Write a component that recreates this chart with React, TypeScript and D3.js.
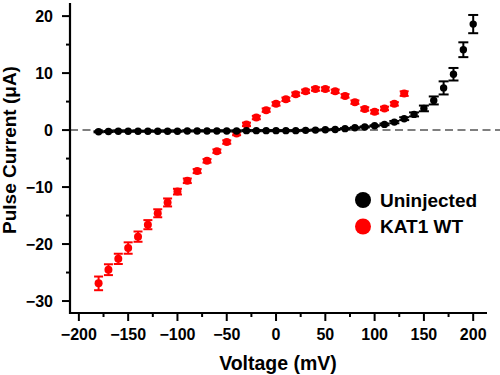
import React from "react";
import * as d3 from "d3";

const blackVoltages = d3.range(-180, 201, 10);
const blackValues = [
  -0.3, -0.25, -0.2, -0.2, -0.2, -0.2, -0.2, -0.2, -0.2,
  -0.15, -0.15, -0.15, -0.15, -0.15, -0.15,
  -0.1, -0.1, -0.1, -0.1, -0.1, -0.1,
  -0.05, 0, 0.05, 0.1, 0.25, 0.4, 0.55, 0.75, 1.0, 1.4, 2.0, 2.75, 3.8, 5.2, 7.4, 9.8, 14.1, 18.6,
];
const blackErrors = [
  0.1, 0.1, 0.1, 0.1, 0.1, 0.1, 0.1, 0.1, 0.1,
  0.1, 0.1, 0.1, 0.1, 0.1, 0.1,
  0.1, 0.1, 0.1, 0.1, 0.1, 0.1,
  0.1, 0.1, 0.1, 0.1, 0.1, 0.1, 0.1, 0.1, 0.15, 0.2, 0.25, 0.35, 0.5, 0.7, 1.15, 1.1, 1.3, 1.6,
];

const redVoltages = d3.range(-180, 131, 10);
const redValues = [
  -26.9, -24.5, -22.6, -20.7, -18.7, -16.6, -14.6, -12.7, -10.8, -8.9, -7.2, -5.4, -3.7, -2.1,
  -0.6, 1.0, 2.2, 3.5, 4.6, 5.4, 6.3, 6.8, 7.2, 7.2, 6.8, 6.0, 4.9, 3.7, 3.2, 3.8, 4.6, 6.4,
];
const redErrors = [
  1.2, 0.95, 0.9, 1.0, 0.9, 0.8, 0.7, 0.7, 0.5, 0.4, 0.35, 0.3, 0.3, 0.3,
  0.3, 0.3, 0.3, 0.3, 0.3, 0.3, 0.3, 0.3, 0.3, 0.3, 0.3, 0.3, 0.3, 0.3, 0.3, 0.3, 0.3, 0.4,
];

const xTicks = [-200, -150, -100, -50, 0, 50, 100, 150, 200];
const xMinorTicks = [-175, -125, -75, -25, 25, 75, 125, 175];
const yTicks = [20, 10, 0, -10, -20, -30];
const yMinorTicks = [15, 5, -5, -15, -25];

const seriesNames = ["Uninjected", "KAT1 WT"];
const seriesColors = ["#000000", "#ff0000"];

const FONT = "Arial, 'Liberation Sans', Helvetica, sans-serif";
const fmt = (t: number) => (t < 0 ? "\u2212" + Math.abs(t) : String(t));

export default function App() {
  const W = 500;
  const H = 375;
  const x = d3.scaleLinear().domain([-209, 214]).range([70, 487]);
  const y = d3.scaleLinear().domain([-32.1, 22.3]).range([313, 3]);
  const x0 = x.range()[0];
  const yb = y.range()[0];

  const series = [
    { v: redVoltages, vals: redValues, errs: redErrors, color: seriesColors[1], r: 4, cap: 4.5 },
    { v: blackVoltages, vals: blackValues, errs: blackErrors, color: seriesColors[0], r: 3.7, cap: 5 },
  ];

  return (
    <svg
      width={W}
      height={H}
      style={{ position: "absolute", left: 0, top: 0, background: "#fff" }}
      fontFamily={FONT}
    >
      <rect width={W} height={H} fill="#fff" />
      {/* zero dashed line */}
      <line
        x1={x0}
        x2={W}
        y1={y(0)}
        y2={y(0)}
        stroke="#7f7f7f"
        strokeWidth={2}
        strokeDasharray="8 4.5"
      />
      {/* axes */}
      <line x1={x0} x2={x0} y1={y.range()[1]} y2={yb + 1} stroke="#000" strokeWidth={2.2} />
      <line x1={x0 - 1} x2={x.range()[1]} y1={yb} y2={yb} stroke="#000" strokeWidth={2.2} />
      {yTicks.map((t) => (
        <g key={"yt" + t}>
          <line x1={x0 - 8} x2={x0} y1={y(t)} y2={y(t)} stroke="#000" strokeWidth={2} />
          <text
            x={x0 - 17}
            y={y(t)}
            textAnchor="end"
            dominantBaseline="central"
            fontSize={16}
            fontWeight="bold"
          >
            {fmt(t)}
          </text>
        </g>
      ))}
      {yMinorTicks.map((t) => (
        <line key={"ym" + t} x1={x0 - 4} x2={x0} y1={y(t)} y2={y(t)} stroke="#000" strokeWidth={2} />
      ))}
      {xTicks.map((t) => (
        <g key={"xt" + t}>
          <line x1={x(t)} x2={x(t)} y1={yb} y2={yb + 8} stroke="#000" strokeWidth={2} />
          <text x={x(t)} y={yb + 27} textAnchor="middle" fontSize={16} fontWeight="bold">
            {fmt(t)}
          </text>
        </g>
      ))}
      {xMinorTicks.map((t) => (
        <line key={"xm" + t} x1={x(t)} x2={x(t)} y1={yb} y2={yb + 4} stroke="#000" strokeWidth={2} />
      ))}
      {/* axis titles */}
      <text x={278} y={370} textAnchor="middle" fontSize={19.5} fontWeight="bold">
        Voltage (mV)
      </text>
      <text
        transform="translate(16,150) rotate(-90)"
        textAnchor="middle"
        fontSize={19}
        fontWeight="bold"
      >
        Pulse Current (μA)
      </text>
      {/* data */}
      {series.map((s, si) => (
        <g key={"s" + si}>
          {s.v.map((v, i) => {
            const cx = x(v);
            const top = y(s.vals[i] + s.errs[i]);
            const bot = y(s.vals[i] - s.errs[i]);
            return (
              <g key={i} stroke={s.color} strokeWidth={2}>
                <line x1={cx} x2={cx} y1={top} y2={bot} />
                <line x1={cx - s.cap} x2={cx + s.cap} y1={top} y2={top} />
                <line x1={cx - s.cap} x2={cx + s.cap} y1={bot} y2={bot} />
              </g>
            );
          })}
          {s.v.map((v, i) => (
            <circle key={"c" + i} cx={x(v)} cy={y(s.vals[i])} r={s.r} fill={s.color} />
          ))}
        </g>
      ))}
      {/* legend */}
      {seriesNames.map((n, i) => (
        <g key={"lg" + i}>
          <circle cx={363} cy={200 + i * 26.5} r={8} fill={seriesColors[i]} />
          <text x={380} y={206.5 + i * 26.5} fontSize={19} fontWeight="bold">
            {n}
          </text>
        </g>
      ))}
    </svg>
  );
}
